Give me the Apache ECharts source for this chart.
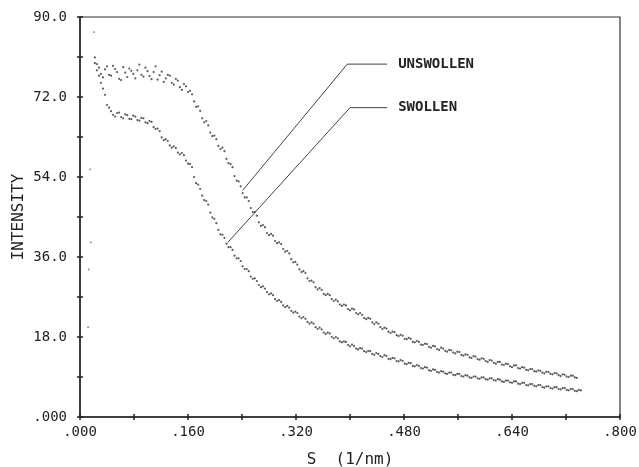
<!DOCTYPE html>
<html>
<head>
<meta charset="utf-8">
<script src="https://cdn.jsdelivr.net/npm/echarts@6/dist/echarts.min.js"></script>
<style>
  html, body { margin: 0; padding: 0; background: #fff; }
  #chart { width: 639px; height: 467px; }
</style>
</head>
<body>
<div id="chart"></div>
<script>
// scattering vector s (1/nm), two interleaved sampling sets shared by both curves
var sValues = [0.022,0.028,0.034,0.040,0.046,0.052,0.058,0.064,0.070,0.076,0.082,0.088,0.094,0.100,0.106,0.112,0.118,0.124,0.130,0.136,
  0.142,0.148,0.154,0.160,0.166,0.172,0.178,0.184,0.190,0.196,0.202,0.208,0.214,0.220,0.226,0.232,0.238,0.244,0.250,0.256,
  0.262,0.268,0.274,0.280,0.286,0.292,0.298,0.304,0.310,0.316,0.322,0.328,0.334,0.340,0.346,0.352,0.358,0.364,0.370,0.376,
  0.382,0.388,0.394,0.400,0.406,0.412,0.418,0.424,0.430,0.436,0.442,0.448,0.454,0.460,0.466,0.472,0.478,0.484,0.490,0.496,
  0.502,0.508,0.514,0.520,0.526,0.532,0.538,0.544,0.550,0.556,0.562,0.568,0.574,0.580,0.586,0.592,0.598,0.604,0.610,0.616,
  0.622,0.628,0.634,0.640,0.646,0.652,0.658,0.664,0.670,0.676,0.682,0.688,0.694,0.700,0.706,0.712,0.718,0.724,0.730,0.736,0.742];

var sMid = [0.025,0.031,0.037,0.043,0.049,0.055,0.061,0.067,0.073,0.079,0.085,0.091,0.097,0.103,0.109,0.115,0.121,0.127,0.133,0.139,
  0.145,0.151,0.157,0.163,0.169,0.175,0.181,0.187,0.193,0.199,0.205,0.211,0.217,0.223,0.229,0.235,0.241,0.247,0.253,0.259,
  0.265,0.271,0.277,0.283,0.289,0.295,0.301,0.307,0.313,0.319,0.325,0.331,0.337,0.343,0.349,0.355,0.361,0.367,0.373,0.379,
  0.385,0.391,0.397,0.403,0.409,0.415,0.421,0.427,0.433,0.439,0.445,0.451,0.457,0.463,0.469,0.475,0.481,0.487,0.493,0.499,
  0.505,0.511,0.517,0.523,0.529,0.535,0.541,0.547,0.553,0.559,0.565,0.571,0.577,0.583,0.589,0.595,0.601,0.607,0.613,0.619,
  0.625,0.631,0.637,0.643,0.649,0.655,0.661,0.667,0.673,0.679,0.685,0.691,0.697,0.703,0.709,0.715,0.721,0.727,0.733,0.739];

var unswollen = [80.9,78.6,76.4,78.9,76.8,78.3,76.1,78.7,76.5,77.9,76.2,79.3,76.6,77.8,76.0,78.9,76.9,75.4,77.0,75.2,
  76.1,74.2,74.9,73.1,72.6,69.8,68.9,66.3,65.6,63.2,62.5,60.3,59.8,57.1,56.2,53.2,51.9,49.4,48.6,46.1,
  45.3,43.0,42.7,40.9,40.8,39.1,38.9,37.2,36.8,34.8,34.3,32.6,32.4,30.6,30.3,28.7,28.6,27.4,27.4,26.1,
  26.0,25.0,25.1,24.0,24.2,23.1,23.0,22.0,22.1,20.9,21.0,19.8,19.9,18.9,19.1,18.2,18.3,17.5,17.6,16.8,
  16.9,16.2,16.4,15.6,15.9,15.1,15.4,14.7,15.0,14.3,14.6,13.8,14.0,13.3,13.6,12.9,13.1,12.4,12.7,12.0,
  12.4,11.7,11.9,11.2,11.6,10.9,11.1,10.5,10.8,10.2,10.4,9.8,10.1,9.6,9.8,9.2,9.5,9.0,9.3,8.8,'-'];

var unswollenMid = [79.4,77.2,78.2,77.0,79.0,77.6,75.8,77.5,78.4,77.2,78.0,77.0,78.6,76.7,77.6,75.9,77.7,76.2,76.8,74.8,
  75.7,73.6,74.4,73.4,71.0,69.9,67.2,66.6,64.0,63.3,61.0,60.6,58.1,56.9,54.2,53.0,50.4,49.4,47.0,46.1,
  43.8,43.2,41.4,41.2,39.6,39.3,37.8,37.4,35.5,34.9,33.2,32.8,31.2,30.7,29.2,29.0,27.7,27.7,26.5,26.4,
  25.3,25.3,24.3,24.4,23.4,23.4,22.3,22.3,21.3,21.3,20.2,20.1,19.2,19.2,18.4,18.5,17.6,17.8,16.9,17.1,
  16.3,16.5,15.8,16.0,15.3,15.6,14.9,15.1,14.5,14.7,14.0,14.1,13.4,13.7,13.0,13.2,12.6,12.8,12.2,12.4,
  11.8,12.0,11.4,11.6,11.0,11.2,10.6,10.8,10.3,10.5,10.0,10.2,9.7,9.9,9.4,9.6,9.1,9.3,8.9,'-'];

var swollen = [79.6,76.8,73.9,70.2,68.8,67.6,68.5,67.2,67.9,67.0,67.6,66.7,67.2,66.1,66.4,64.8,64.3,62.3,62.1,60.6,
  60.5,59.1,58.9,57.0,56.2,52.6,51.3,48.8,47.8,44.9,43.6,41.1,40.3,38.2,37.6,35.7,35.1,33.3,32.8,31.1,
  30.6,29.2,28.9,27.6,27.4,26.1,25.9,24.7,24.6,23.5,23.4,22.2,22.1,21.0,21.0,19.8,19.7,18.7,18.8,17.7,
  17.7,16.8,16.9,15.9,16.0,15.2,15.4,14.6,14.8,14.0,14.2,13.5,13.7,13.0,13.2,12.5,12.6,11.9,12.1,11.4,
  11.5,10.9,11.1,10.4,10.6,10.0,10.2,9.7,10.0,9.4,9.7,9.1,9.3,8.8,9.1,8.6,8.9,8.4,8.7,8.2,
  8.4,7.9,8.2,7.7,8.0,7.4,7.7,7.1,7.4,6.9,7.2,6.6,6.9,6.4,6.7,6.2,6.5,6.0,6.3,5.8,6.0];

var swollenMid = [78.0,75.2,72.5,69.6,68.0,68.4,67.5,68.1,67.1,67.8,66.8,67.3,66.3,66.6,65.2,64.9,62.9,62.5,61.1,60.9,
  59.5,59.4,57.7,56.9,54.0,52.3,49.8,48.6,46.0,44.6,42.1,41.0,39.0,38.2,36.3,35.7,33.9,33.3,31.6,31.2,
  29.7,29.4,28.1,27.8,26.5,26.3,25.1,25.0,23.9,23.7,22.6,22.5,21.4,21.3,20.2,20.1,19.0,19.0,18.0,18.0,
  17.0,17.0,16.2,16.3,15.4,15.5,14.8,14.9,14.2,14.4,13.7,13.9,13.1,13.3,12.6,12.8,12.0,12.2,11.5,11.7,
  11.0,11.2,10.5,10.7,10.1,10.3,9.8,10.0,9.5,9.7,9.2,9.4,8.9,9.1,8.7,8.9,8.5,8.7,8.3,8.5,
  8.0,8.2,7.8,8.0,7.5,7.7,7.2,7.4,7.0,7.2,6.7,6.9,6.5,6.7,6.3,6.5,6.1,6.3,5.9,6.1];

// isolated points near the beam stop
var strayPoints = [[0.021, 86.6], [0.015, 55.7], [0.016, 39.3], [0.013, 33.2], [0.012, 20.2]];

// leader lines to the curve labels
var leaderUnswollen = [[0.241, 51.0], [0.396, 79.4], [0.455, 79.4]];
var leaderSwollen = [[0.219, 39.3], [0.400, 69.6], [0.455, 69.6]];

var xTickLabels = ['.000', '.160', '.320', '.480', '.640', '.800'];
var yTickLabels = ['.000', '18.0', '36.0', '54.0', '72.0', '90.0'];

function pairs(xs, ys) {
  var out = [];
  for (var i = 0; i < xs.length; i++) out.push([xs[i], ys[i]]);
  return out;
}

var monoFont = 'DejaVu Sans Mono';
var ink = '#222';

function xLabel(v) {
  var k = Math.round(v / 0.08);
  return k % 2 === 0 ? xTickLabels[k / 2] : '';
}
function yLabel(v) {
  var k = Math.round(v / 9);
  return k % 2 === 0 ? yTickLabels[k / 2] : '';
}

function dots(name, data) {
  return {
    name: name, type: 'scatter', data: data, silent: true,
    symbolSize: 2.2, itemStyle: { color: '#333' }
  };
}

function leader(data, text) {
  return {
    type: 'line', data: data, showSymbol: false, silent: true,
    lineStyle: { color: '#444', width: 1 },
    endLabel: { show: true, formatter: text, distance: 11,
      fontFamily: monoFont, fontSize: 14, fontWeight: 'bold', color: ink }
  };
}

var chart = echarts.init(document.getElementById('chart'));
var option = {
  animation: false,
  backgroundColor: '#fff',
  grid: {
    left: 80, right: 19, top: 17, bottom: 50,
    outerBoundsMode: 'none',
    show: true, borderColor: '#333', borderWidth: 1.2
  },
  xAxis: [
    {
      type: 'value', min: 0, max: 0.8, interval: 0.08, position: 'bottom',
      name: 'S  (1/nm)', nameLocation: 'middle', nameGap: 35,
      nameTextStyle: { fontFamily: monoFont, fontSize: 16, color: ink },
      axisLine: { lineStyle: { color: ink, width: 1.5 } },
      axisTick: { length: 3, lineStyle: { color: ink, width: 1.5 } },
      axisLabel: { formatter: xLabel, fontFamily: monoFont, fontSize: 14, color: ink, margin: 8 },
      splitLine: { show: false }
    },
    {
      type: 'value', min: 0, max: 0.8, interval: 0.08, position: 'bottom',
      axisLine: { show: false },
      axisTick: { inside: true, length: 3, lineStyle: { color: ink, width: 1.5 } },
      axisLabel: { show: false },
      splitLine: { show: false }
    }
  ],
  yAxis: [
    {
      type: 'value', min: 0, max: 90, interval: 9, position: 'left',
      name: 'INTENSITY', nameLocation: 'middle', nameGap: 53, nameRotate: 90,
      nameMoveOverlap: false,
      nameTextStyle: { fontFamily: monoFont, fontSize: 16, color: ink },
      axisLine: { show: true, lineStyle: { color: ink, width: 1.5 } },
      axisTick: { show: true, length: 3, lineStyle: { color: ink, width: 1.5 } },
      axisLabel: { formatter: yLabel, fontFamily: monoFont, fontSize: 14, color: ink, margin: 13 },
      splitLine: { show: false }
    },
    {
      type: 'value', min: 0, max: 90, interval: 9, position: 'left',
      axisLine: { show: false },
      axisTick: { show: true, inside: true, length: 3, lineStyle: { color: ink, width: 1.5 } },
      axisLabel: { show: false },
      splitLine: { show: false }
    }
  ],
  series: [
    dots('UNSWOLLEN', pairs(sValues, unswollen)),
    dots('UNSWOLLEN', pairs(sMid, unswollenMid)),
    dots('SWOLLEN', pairs(sValues, swollen)),
    dots('SWOLLEN', pairs(sMid, swollenMid)),
    {
      type: 'scatter', data: strayPoints, silent: true,
      symbolSize: 1.8, itemStyle: { color: '#666' }
    },
    leader(leaderUnswollen, 'UNSWOLLEN'),
    leader(leaderSwollen, 'SWOLLEN')
  ]
};
chart.setOption(option);
</script>
</body>
</html>
